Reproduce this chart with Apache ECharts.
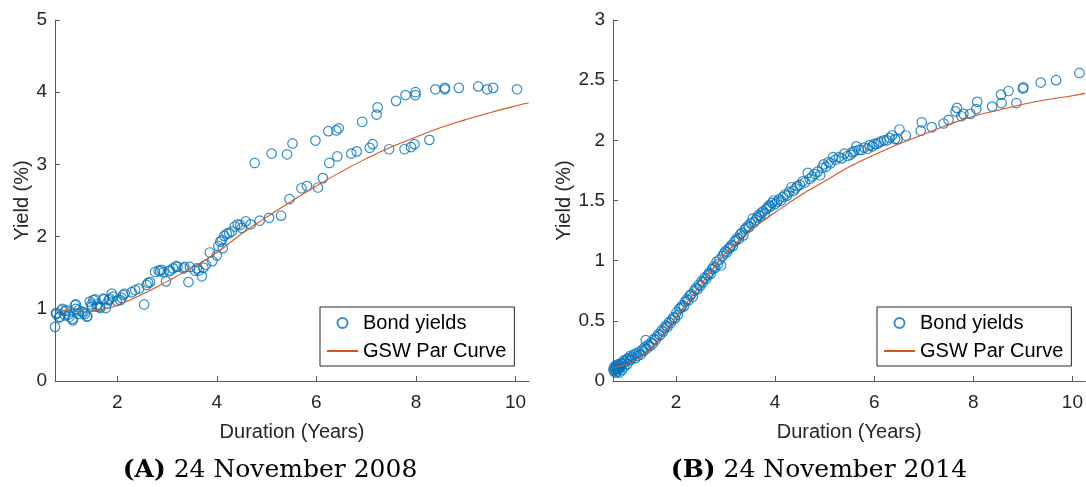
<!DOCTYPE html>
<html>
<head>
<meta charset="utf-8">
<script src="https://cdn.jsdelivr.net/npm/echarts@6/dist/echarts.min.js"></script>
<style>
  html, body { margin: 0; padding: 0; background: #fff; }
  #chart { width: 1086px; height: 487px; }
</style>
</head>
<body>
<div id="chart"></div>
<script>
// ===== data (duration in years, yield in %) =====
// (A) 24 November 2008
const bondsA = [
  [0.75,0.75],[0.77,0.94],[0.78,0.93],[0.83,0.88],[0.85,0.89],[0.88,0.98],[0.90,1.00],[0.95,0.91],
  [0.95,0.97],[0.98,0.98],[1.02,0.92],[1.04,0.89],[1.10,0.86],[1.11,0.84],[1.15,1.05],[1.17,1.00],
  [1.17,1.06],[1.22,0.93],[1.22,0.98],[1.29,0.96],[1.32,0.95],[1.35,0.93],[1.39,0.89],[1.40,0.90],
  [1.45,1.10],[1.48,1.06],[1.49,1.03],[1.52,1.12],[1.56,1.13],[1.59,1.03],[1.60,1.06],[1.65,1.03],
  [1.66,1.01],[1.72,1.14],[1.73,1.13],[1.77,1.01],[1.79,1.07],[1.83,1.12],[1.85,1.14],[1.89,1.21],
  [1.92,1.17],[1.99,1.11],[2.06,1.12],[2.09,1.15],[2.12,1.19],[2.15,1.21],[2.29,1.23],[2.36,1.26],
  [2.44,1.28],[2.54,1.06],[2.59,1.33],[2.62,1.36],[2.66,1.37],[2.76,1.51],[2.83,1.53],[2.86,1.52],
  [2.89,1.54],[2.93,1.51],[2.98,1.38],[3.04,1.52],[3.06,1.53],[3.12,1.56],[3.18,1.59],[3.21,1.58],
  [3.33,1.56],[3.35,1.58],[3.43,1.37],[3.46,1.58],[3.56,1.53],[3.60,1.56],[3.64,1.53],[3.70,1.45],
  [3.73,1.57],[3.78,1.61],[3.86,1.78],[3.91,1.66],[4.00,1.74],[4.03,1.87],[4.07,1.93],[4.10,1.95],
  [4.12,1.84],[4.15,2.01],[4.20,2.04],[4.25,2.05],[4.30,2.07],[4.36,2.14],[4.42,2.17],[4.47,2.16],
  [4.50,2.12],[4.58,2.21],[4.68,2.17],[4.86,2.22],[5.05,2.26],[5.29,2.29],[5.46,2.52],[5.70,2.67],
  [5.81,2.70],[6.03,2.68],[6.13,2.81],[6.26,3.02],[6.42,3.11],[6.70,3.15],[6.81,3.18],[7.07,3.23],
  [7.13,3.28],[7.46,3.21],[7.77,3.21],[7.90,3.24],[7.97,3.28],[8.27,3.34],
  [4.76,3.02],[5.10,3.15],[5.41,3.14],[5.52,3.29],[5.98,3.33],[6.24,3.46],[6.40,3.47],[6.45,3.50],
  [6.92,3.59],[7.21,3.69],[7.23,3.79],[7.60,3.88],[7.79,3.96],[7.99,4.00],[7.99,3.96],[8.39,4.04],
  [8.58,4.06],[8.58,4.04],[8.86,4.06],[9.25,4.08],[9.43,4.04],[9.55,4.06],[10.03,4.04]
];
const curveA = [
  [0.75,1.00],[1.00,0.97],[1.25,0.96],[1.50,0.97],[1.75,1.00],[2.00,1.05],[2.50,1.20],[3.00,1.38],
  [3.50,1.57],[4.00,1.78],[4.50,2.04],[5.00,2.27],[5.50,2.49],[6.00,2.70],[6.50,2.90],[7.00,3.08],
  [7.50,3.24],[8.00,3.38],[8.50,3.51],[9.00,3.62],[9.50,3.72],[10.00,3.81],[10.26,3.85]
];

// (B) 24 November 2014
const bondsB = [
  [0.74,0.10],[0.75,0.08],[0.76,0.12],[0.77,0.09],[0.78,0.11],[0.79,0.07],[0.80,0.13],[0.81,0.10],
  [0.82,0.08],[0.83,0.12],[0.84,0.14],[0.85,0.10],[0.86,0.07],[0.87,0.13],[0.88,0.11],[0.90,0.15],
  [0.91,0.09],[0.93,0.14],[0.95,0.17],[0.96,0.12],[0.98,0.16],[1.00,0.18],[1.02,0.14],[1.04,0.19],
  [1.06,0.17],[1.08,0.21],[1.10,0.18],[1.12,0.20],[1.15,0.22],[1.18,0.19],[1.20,0.23],[1.23,0.21],
  [1.26,0.24],[1.29,0.22],[1.32,0.26],[1.35,0.25],[1.37,0.28],[1.39,0.34],[1.41,0.27],[1.44,0.30],
  [1.47,0.29],[1.50,0.32],[1.53,0.31],[1.56,0.35],[1.59,0.34],[1.62,0.37],[1.65,0.39],[1.68,0.38],
  [1.71,0.42],[1.74,0.41],[1.77,0.44],[1.80,0.46],[1.83,0.45],[1.86,0.49],[1.89,0.48],[1.92,0.51],
  [1.95,0.53],[1.98,0.52],[2.01,0.57],[2.04,0.55],[2.07,0.60],[2.10,0.61],[2.13,0.63],[2.16,0.62],
  [2.19,0.66],[2.22,0.68],[2.25,0.67],[2.28,0.71],[2.31,0.72],[2.34,0.70],[2.37,0.75],[2.40,0.77],
  [2.43,0.76],[2.46,0.80],[2.49,0.79],[2.52,0.83],[2.55,0.82],[2.58,0.86],[2.61,0.85],[2.64,0.88],
  [2.67,0.90],[2.70,0.89],[2.73,0.93],[2.76,0.95],[2.79,0.94],[2.82,0.99],[2.85,0.97],[2.88,1.01],
  [2.91,0.96],[2.94,1.04],[2.97,1.06],[3.00,1.08],[3.03,1.07],[3.06,1.10],[3.09,1.11],[3.12,1.13],
  [3.15,1.12],[3.18,1.16],[3.21,1.17],[3.24,1.19],[3.27,1.18],[3.30,1.22],[3.33,1.23],[3.36,1.21],
  [3.39,1.26],[3.42,1.27],[3.45,1.29],[3.48,1.28],[3.51,1.31],[3.55,1.35],[3.58,1.32],[3.61,1.34],
  [3.64,1.36],[3.67,1.38],[3.70,1.37],[3.73,1.40],[3.76,1.41],[3.79,1.39],[3.82,1.43],[3.85,1.44],
  [3.88,1.46],[3.91,1.45],[3.94,1.48],[3.97,1.50],[4.00,1.47],[4.04,1.49],[4.08,1.51],[4.12,1.50],
  [4.16,1.53],[4.20,1.55],[4.24,1.54],[4.28,1.57],[4.33,1.61],[4.37,1.58],[4.41,1.60],[4.45,1.62],
  [4.50,1.63],[4.56,1.66],[4.60,1.65],[4.66,1.73],[4.70,1.68],[4.75,1.70],[4.80,1.72],[4.86,1.74],
  [4.91,1.71],[4.95,1.77],[4.98,1.80],[5.03,1.78],[5.08,1.82],[5.12,1.81],[5.17,1.86],[5.22,1.84],
  [5.29,1.86],[5.34,1.85],[5.40,1.89],[5.46,1.87],[5.52,1.88],[5.56,1.90],[5.60,1.91],[5.64,1.95],
  [5.69,1.92],[5.74,1.92],[5.80,1.94],[5.87,1.93],[5.91,1.96],[5.96,1.95],[6.00,1.97],[6.05,1.97],
  [6.09,1.98],[6.13,1.99],[6.20,2.00],[6.26,2.00],[6.31,2.02],[6.36,2.04],[6.42,2.01],[6.47,2.01],
  [6.51,2.09],[6.64,2.04],[6.94,2.08],[6.96,2.15],[7.16,2.11],[7.40,2.14],[7.50,2.17],[7.64,2.24],
  [7.67,2.27],[7.76,2.20],[7.80,2.22],[7.94,2.22],[8.06,2.26],[8.08,2.32],[8.38,2.28],[8.56,2.38],
  [8.57,2.31],[8.71,2.41],[8.87,2.31],[9.00,2.43],[9.01,2.44],[9.36,2.48],[9.67,2.50],[10.14,2.56]
];
const curveB = [
  [0.73,0.11],[1.00,0.14],[1.25,0.19],[1.50,0.27],[1.75,0.39],[2.00,0.53],[2.50,0.80],[3.00,1.06],
  [3.50,1.25],[4.00,1.40],[4.50,1.54],[5.00,1.66],[5.50,1.78],[6.00,1.88],[6.50,1.97],[7.00,2.05],
  [7.50,2.13],[8.00,2.20],[8.50,2.25],[9.00,2.30],[9.50,2.34],[10.00,2.37],[10.25,2.39]
];
const xTicks = [2, 4, 6, 8, 10];
const captions = ['{b|(A)} 24 November 2008', '{b|(B)} 24 November 2014'];

// ===== styles =====
const SANS = 'Liberation Sans, Arial, sans-serif';
const SERIF = 'DejaVu Serif, serif';
const AXIS_COLOR = '#262626';
const BLUE = '#0072BD';
const ORANGE = '#D95319';

function xAxis(gridIndex, min, max) {
  return {
    type: 'value', gridIndex, min, max,
    name: 'Duration (Years)', nameLocation: 'middle', nameGap: 41,
    nameTextStyle: { fontFamily: SANS, fontSize: 20, color: AXIS_COLOR },
    axisLine: { lineStyle: { color: '#5a5a5a', width: 1 } },
    axisTick: { inside: true, length: 5, customValues: xTicks, lineStyle: { color: '#5a5a5a' } },
    axisLabel: { customValues: xTicks, margin: 12, fontFamily: SANS, fontSize: 19, color: AXIS_COLOR },
    splitLine: { show: false }
  };
}

function yAxis(gridIndex, max, interval, nameGap) {
  return {
    type: 'value', gridIndex, min: 0, max, interval,
    name: 'Yield (%)', nameLocation: 'middle', nameGap, nameRotate: 90,
    nameTextStyle: { fontFamily: SANS, fontSize: 20, color: AXIS_COLOR },
    axisLine: { show: true, lineStyle: { color: '#5a5a5a', width: 1 } },
    axisTick: { show: true, inside: true, length: 5, lineStyle: { color: '#5a5a5a' } },
    axisLabel: { margin: 8, fontFamily: SANS, fontSize: 19, color: AXIS_COLOR },
    splitLine: { show: false }
  };
}

function legend(left) {
  return {
    orient: 'vertical', left, top: 307,
    padding: [6, 8, 5, 6], itemWidth: 31, itemHeight: 10, itemGap: 8,
    borderColor: AXIS_COLOR, borderWidth: 1, borderRadius: 0, backgroundColor: '#fff',
    selectedMode: false,
    textStyle: { fontFamily: SANS, fontSize: 20, lineHeight: 20, color: '#000' },
    data: [
      'Bond yields',
      { name: 'GSW Par Curve', itemStyle: { opacity: 0 } }
    ]
  };
}

function scatter(idx, data) {
  return {
    name: 'Bond yields', type: 'scatter', xAxisIndex: idx, yAxisIndex: idx,
    data, symbol: 'circle', symbolSize: 9.5,
    itemStyle: { color: 'rgba(255,255,255,0)', borderColor: BLUE, borderWidth: 1.2 },
    emphasis: { disabled: true }
  };
}

function curve(idx, data) {
  return {
    name: 'GSW Par Curve', type: 'line', xAxisIndex: idx, yAxisIndex: idx,
    data, smooth: true, symbol: 'none', showSymbol: false,
    lineStyle: { color: ORANGE, width: 1.1 }, itemStyle: { color: ORANGE },
    emphasis: { disabled: true }, z: 3
  };
}

function caption(center, text) {
  return {
    text, left: center, top: 455, textAlign: 'center', padding: 0,
    textStyle: {
      fontFamily: SERIF, fontSize: 25, fontWeight: 'normal', color: '#000', lineHeight: 30,
      rich: { b: { fontFamily: SERIF, fontSize: 25, fontWeight: 'bold', color: '#000', lineHeight: 30 } }
    }
  };
}

const chart = echarts.init(document.getElementById('chart'));
chart.setOption({
  animation: false,
  backgroundColor: '#fff',
  title: [caption(270, captions[0]), caption(819, captions[1])],
  grid: [
    { left: 55, top: 20, width: 474, height: 361, containLabel: false },
    { left: 613, top: 20, width: 474, height: 361, containLabel: false }
  ],
  xAxis: [xAxis(0, 0.75, 10.27), xAxis(1, 0.73, 10.26)],
  yAxis: [yAxis(0, 5, 1, 23), yAxis(1, 3, 0.5, 38)],
  legend: [legend(320), legend(877)],
  series: [scatter(0, bondsA), curve(0, curveA), scatter(1, bondsB), curve(1, curveB)]
});
</script>
</body>
</html>
